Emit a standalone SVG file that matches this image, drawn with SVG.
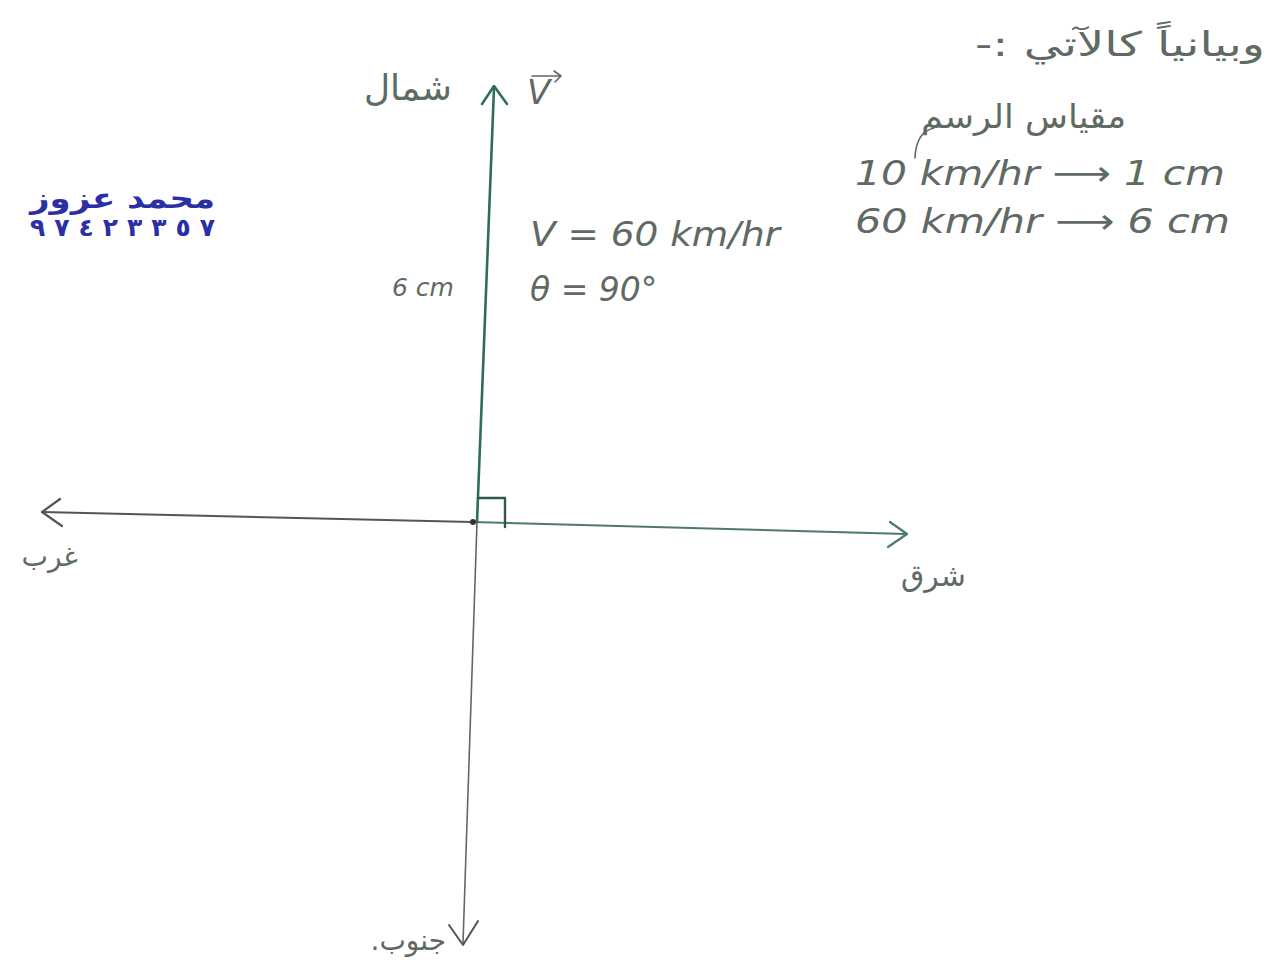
<svg xmlns="http://www.w3.org/2000/svg" width="1279" height="978" viewBox="0 0 1279 978">
<style>
.ar{font-family:"DejaVu Sans","Noto Sans",sans-serif;fill:#5e6a62}
.rtl{direction:rtl;text-anchor:start}
.lat{font-family:"DejaVu Sans","Liberation Sans",sans-serif;font-style:italic;font-weight:200;fill:#5e6a62}
.ax{fill:none;stroke-linecap:round;stroke-linejoin:round}
.blue{font-family:"DejaVu Sans",sans-serif;font-weight:bold;fill:#2b2fa5}
</style>
<rect width="1279" height="978" fill="#ffffff"/>
<g id="connectors">
  <path class="ax" d="M42 512 L472 522" stroke="#555" stroke-width="2"/>
  <path class="ax" d="M472 522 L906 534" stroke="#4e7a66" stroke-width="2"/>
  <path class="ax" d="M60 499 L42 512 L62 526" stroke="#555" stroke-width="2.2"/>
  <path class="ax" d="M890 522 L907 534 L888 547" stroke="#4e7a66" stroke-width="2.2"/>
  <path class="ax" d="M477 522 L494 88" stroke="#2e6e55" stroke-width="2.6"/>
  <path class="ax" d="M482 104 L494 86 L507 104" stroke="#2e6e55" stroke-width="2.6"/>
  <path class="ax" d="M477 522 L463 943" stroke="#666" stroke-width="1.6"/>
  <path class="ax" d="M449 925 L463 945 L478 921" stroke="#555" stroke-width="2"/>
  <path class="ax" d="M478 498 L505 498 L505 527" stroke="#2e5a48" stroke-width="2.4"/>
  <circle cx="473" cy="522" r="3" fill="#333"/>
</g>
<g id="north"><text class="ar rtl" x="452" y="100" font-size="36">شمال</text></g>
<g id="vector">
  <text class="lat" x="527" y="104" font-size="34">V</text>
  <path class="ax" d="M532 76 L560 76 M554 71 L561 76 L555 82" stroke="#5e6a62" stroke-width="1.6"/>
</g>
<g id="east"><text class="ar rtl" x="966" y="586" font-size="30">شرق</text></g>
<g id="west"><text class="ar rtl" x="78" y="566" font-size="28">غرب</text></g>
<g id="south"><text class="ar rtl" x="446" y="950" font-size="28">جنوب.</text></g>
<g id="length"><text class="lat" x="392" y="296" font-size="25">6 cm</text></g>
<g id="values">
  <text class="lat" x="530" y="246" font-size="33" textLength="250" lengthAdjust="spacingAndGlyphs">V = 60 km/hr</text>
  <text class="lat" x="530" y="301" font-size="33">θ = 90°</text>
</g>
<g id="scale">
  <text class="ar rtl" x="1265" y="56" font-size="34" textLength="290" lengthAdjust="spacingAndGlyphs">وبيانياً كالآتي :-</text>
  <text class="ar rtl" x="1126" y="128" font-size="33" textLength="205" lengthAdjust="spacingAndGlyphs">مقياس الرسم</text>
  <path class="ax" d="M934 128 Q916 132 915 158" stroke="#5e6a62" stroke-width="1.6"/>
  <text class="lat" x="855" y="185" font-size="34" textLength="370" lengthAdjust="spacingAndGlyphs">10 km/hr ⟶ 1 cm</text>
  <text class="lat" x="855" y="233" font-size="34" textLength="375" lengthAdjust="spacingAndGlyphs">60 km/hr ⟶ 6 cm</text>
</g>
<g id="author">
  <text class="blue rtl" x="215" y="208" font-size="28" textLength="185" lengthAdjust="spacingAndGlyphs">محمد عزوز</text>
  <text class="blue" x="30" y="236" font-size="25" textLength="185" lengthAdjust="spacing">٩٧٤٢٣٣٥٧</text>
</g>
</svg>
